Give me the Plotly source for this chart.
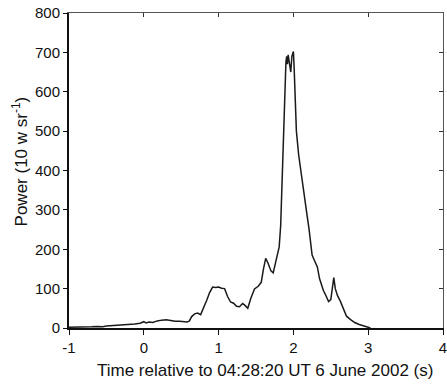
import plotly.graph_objects as go

# Time relative to 04:28:20 UT (s)
time_s = [-1.00, -0.90, -0.80, -0.70, -0.62, -0.55, -0.50, -0.42, -0.35, -0.28,
          -0.20, -0.12, -0.05, 0.00, 0.03, 0.07, 0.12, 0.18, 0.24, 0.30,
          0.36, 0.42, 0.48, 0.54, 0.58, 0.61, 0.64, 0.68, 0.72, 0.76,
          0.80, 0.84, 0.88, 0.92, 0.96, 1.00, 1.04, 1.08, 1.12, 1.16,
          1.20, 1.24, 1.28, 1.32, 1.35, 1.39, 1.43, 1.48, 1.53, 1.57,
          1.60, 1.63, 1.66, 1.70, 1.73, 1.77, 1.81, 1.83, 1.85, 1.87,
          1.88, 1.89, 1.90, 1.91, 1.92, 1.93, 1.95, 1.965, 1.98, 2.00,
          2.01, 2.02, 2.04, 2.07, 2.11, 2.15, 2.18, 2.21, 2.25, 2.28,
          2.32, 2.35, 2.40, 2.44, 2.47, 2.50, 2.52, 2.54, 2.56, 2.59,
          2.63, 2.67, 2.71, 2.76, 2.82, 2.88, 2.94, 3.00, 3.03]
power = [2, 2, 2, 3, 4, 3, 5, 6, 6, 8,
         9, 10, 12, 16, 13, 15, 14, 18, 20, 21,
         19, 17, 17, 16, 15, 18, 29, 36, 38, 34,
         50, 70, 90, 104, 103, 104, 101, 100, 80, 66,
         63, 55, 54, 62, 58, 50, 75, 99, 106, 116,
         150, 177, 165, 145, 140, 170, 206, 260, 370, 500,
         585, 640, 675, 690, 670, 694, 660, 650, 690, 702,
         660, 590, 500, 440, 380, 330, 290, 250, 185, 172,
         155, 125, 96, 80, 67, 72, 100, 128, 100, 82,
         67, 48, 30, 22, 14, 9, 5, 2, 0]

x_ticks = [-1, 0, 1, 2, 3, 4]
y_ticks = [0, 100, 200, 300, 400, 500, 600, 700, 800]

fig = go.Figure()
fig.add_trace(go.Scatter(x=time_s, y=power, mode="lines",
                         line=dict(color="#1a1a1a", width=1.5),
                         hoverinfo="skip"))
# invisible trace for mirrored (top/right) frame axes
fig.add_trace(go.Scatter(x=[-1], y=[0], xaxis="x2", yaxis="y2", mode="markers",
                         marker=dict(opacity=0), hoverinfo="skip"))

fig.update_layout(
    width=447, height=384,
    margin=dict(l=69, r=0, t=13, b=56),
    plot_bgcolor="white", paper_bgcolor="white",
    showlegend=False,
    font=dict(family="Liberation Sans, Arial, sans-serif", size=15, color="#111"),
    xaxis=dict(range=[-1, 4], tickvals=x_ticks, ticktext=[str(v) for v in x_ticks],
               showline=True, linecolor="#111", linewidth=1.5,
               ticks="outside", ticklen=5, tickwidth=1, tickcolor="#111",
               ticklabeloverflow="allow", tickfont=dict(size=15),
               showgrid=False, zeroline=False),
    yaxis=dict(range=[0, 800], tickvals=y_ticks,
               showline=True, linecolor="#111", linewidth=2,
               ticks="outside", ticklen=4, tickwidth=1, tickcolor="#111",
               ticklabeloverflow="allow", tickfont=dict(size=15),
               showgrid=False, zeroline=False),
    xaxis2=dict(range=[-1, 4], tickvals=x_ticks, overlaying="x", side="top",
                showticklabels=False, showline=True, linecolor="#555", linewidth=1.5,
                ticks="inside", ticklen=4, tickcolor="#333",
                showgrid=False, zeroline=False),
    yaxis2=dict(range=[0, 800], tickvals=y_ticks, overlaying="y", side="right",
                showticklabels=False, showline=True, linecolor="#555", linewidth=1,
                ticks="inside", ticklen=4, tickcolor="#333",
                showgrid=False, zeroline=False),
    annotations=[
        dict(text="Power (10 w sr<sup>-1</sup>)", textangle=-90,
             xref="paper", yref="paper", x=-0.13, y=0.53,
             xanchor="center", yanchor="middle", showarrow=False,
             font=dict(size=17, color="#111")),
        dict(text="Time relative to 04:28:20 UT 6 June 2002 (s)",
             xref="paper", yref="paper", x=0.524, y=-0.1365,
             xanchor="center", yanchor="middle", showarrow=False,
             font=dict(size=17, color="#111")),
    ],
)

page_css = ("document.documentElement.style.overflow='hidden';"
            "document.body.style.overflow='hidden';"
            "document.body.style.margin='0';")
fig.write_html("out.html", post_script=page_css,
               config={"displayModeBar": False, "staticPlot": True})
